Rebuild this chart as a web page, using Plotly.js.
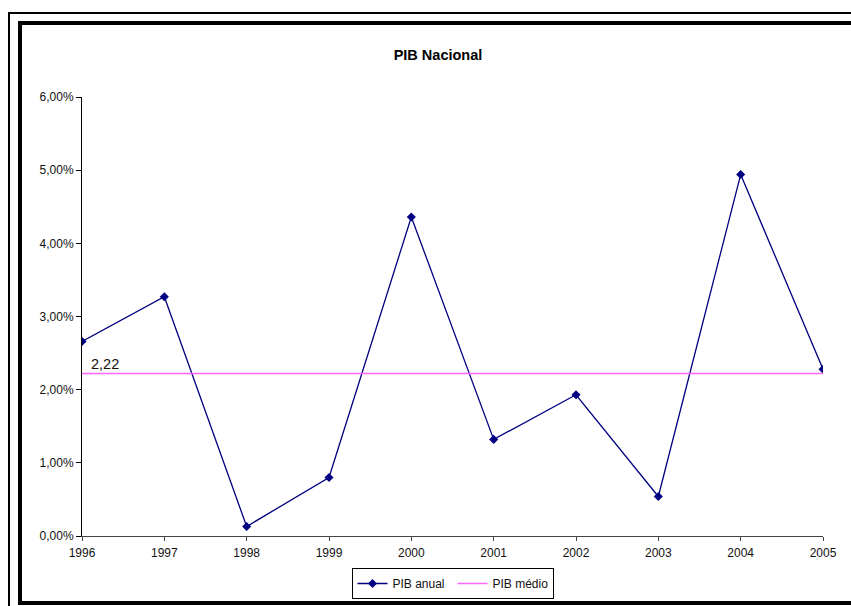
<!DOCTYPE html>
<html>
<head>
<meta charset="utf-8">
<script src="https://cdn.plot.ly/plotly-3.0.1.min.js"></script>
<style>
  html, body { margin: 0; padding: 0; background: #fff; overflow: hidden; }
  #wrap { position: relative; width: 851px; height: 606px; overflow: hidden; }
  #chart { position: absolute; left: 0; top: 0; width: 851px; height: 606px; }
  .frame { position: absolute; pointer-events: none; box-sizing: border-box; }
  #outer { left: 8px; top: 12px; width: 900px; height: 700px; border: 2px solid #000; }
  #inner { left: 18px; top: 21px; width: 900px; height: 584px; border: 4px solid #000; }
</style>
</head>
<body>
<div id="wrap">
  <div id="chart"></div>
  <div id="outer" class="frame"></div>
  <div id="inner" class="frame"></div>
</div>
<script>
// Annual GDP growth (%) and its average over the period
const years = [1996, 1997, 1998, 1999, 2000, 2001, 2002, 2003, 2004, 2005];
const pibAnual = [2.66, 3.27, 0.13, 0.80, 4.36, 1.32, 1.93, 0.54, 4.94, 2.28];
const pibMedio = 2.22;
const yTicks = [0, 1, 2, 3, 4, 5, 6];
const yTickText = yTicks.map(v => v.toFixed(2).replace('.', ',') + '%');

const W = 851, H = 606;
const FONT = 'Liberation Sans, Arial, sans-serif';

const traces = [
  {
    x: years,
    y: pibAnual,
    name: 'PIB anual',
    type: 'scatter',
    mode: 'lines+markers',
    line: { color: '#000080', width: 1.3 },
    marker: { symbol: 'diamond', size: 7, color: '#000080' }
  },
  {
    x: years,
    y: years.map(() => pibMedio),
    name: 'PIB médio',
    type: 'scatter',
    mode: 'lines',
    line: { color: '#FF66FF', width: 1.5 }
  }
];

const layout = {
  width: W,
  height: H,
  margin: { l: 82, r: 28, t: 97, b: 70, autoexpand: false },
  paper_bgcolor: '#fff',
  plot_bgcolor: '#fff',
  font: { family: FONT, size: 12, color: '#111' },
  showlegend: true,
  title: {
    text: '<b>PIB Nacional</b>',
    font: { family: FONT, size: 14.5, color: '#000' },
    xref: 'container', x: 438 / W, xanchor: 'center',
    yref: 'container', y: 1 - 55 / H, yanchor: 'middle'
  },
  xaxis: {
    range: [years[0], years[years.length - 1]],
    tickvals: years,
    ticktext: years.map(String),
    showgrid: false,
    zeroline: false,
    showline: true,
    linecolor: '#444',
    linewidth: 1,
    ticks: 'outside',
    ticklen: 4,
    tickcolor: '#444',
    ticklabelstandoff: 2,
    tickfont: { family: FONT, size: 12, color: '#111' }
  },
  yaxis: {
    range: [0, 6],
    tickvals: yTicks,
    ticktext: yTickText,
    showgrid: false,
    zeroline: false,
    showline: true,
    linecolor: '#000',
    linewidth: 1,
    ticks: 'outside',
    ticklen: 5,
    tickcolor: '#000',
    tickfont: { family: FONT, size: 12, color: '#111' }
  },
  legend: {
    orientation: 'h',
    x: 0.5, xanchor: 'center',
    y: -0.0729, yanchor: 'top',
    bordercolor: '#000',
    borderwidth: 1,
    bgcolor: '#fff',
    font: { family: FONT, size: 12, color: '#111' },
    itemwidth: 30,
    entrywidth: 55,
    tracegroupgap: 0
  },
  annotations: [
    {
      x: years[0],
      y: pibMedio,
      xref: 'x', yref: 'y',
      text: pibMedio.toFixed(2).replace('.', ','),
      showarrow: false,
      xanchor: 'left', yanchor: 'bottom',
      xshift: 7, yshift: 0,
      font: { family: FONT, size: 14.5, color: '#111' }
    }
  ]
};

Plotly.newPlot('chart', traces, layout, { staticPlot: true, displayModeBar: false });
</script>
</body>
</html>
